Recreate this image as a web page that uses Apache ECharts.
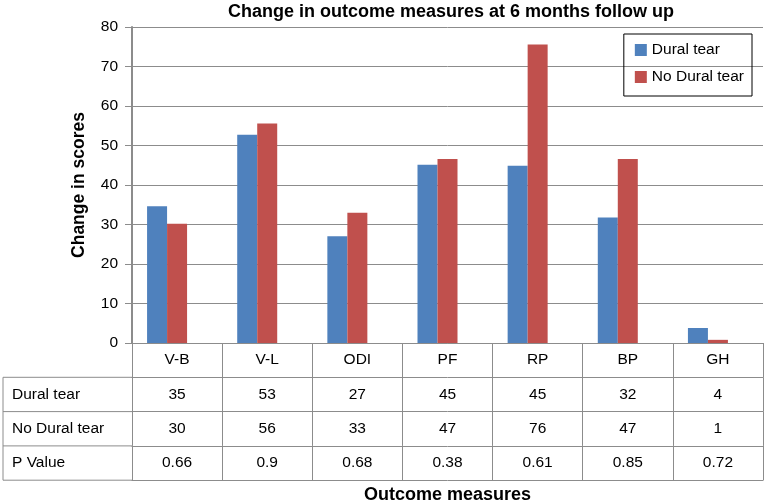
<!DOCTYPE html>
<html>
<head>
<meta charset="utf-8">
<script src="https://cdn.jsdelivr.net/npm/echarts@6/dist/echarts.min.js"></script>
<style>html,body{margin:0;padding:0;background:#fff}#c{width:767px;height:504px}</style>
</head>
<body>
<div id="c"></div>
<script>
const categories = ['V-B', 'V-L', 'ODI', 'PF', 'RP', 'BP', 'GH'];
const duralTear = [34.6, 52.7, 27.0, 45.1, 44.9, 31.8, 3.8];
const noDuralTear = [30.2, 55.6, 33.0, 46.6, 75.6, 46.6, 0.8];
const pValues = ['0.66', '0.9', '0.68', '0.38', '0.61', '0.85', '0.72'];
const seriesNames = ['Dural tear', 'No Dural tear', 'P Value'];
const yTicks = [0, 10, 20, 30, 40, 50, 60, 70, 80];

const FONT = "'Liberation Sans', Arial, sans-serif";
const FS = 15.5;
const GRAY = '#8c8c8c';
const G_LEFT = 132, G_RIGHT = 763, G_TOP = 27, G_BOTTOM = 343;
const ROW_H = 34.3;
const TABLE_LEFT = 3;

const chart = echarts.init(document.getElementById('c'), null, { renderer: 'canvas' });

function tableAxis(k, name, values) {
  return {
    type: 'category',
    data: categories,
    gridIndex: 0,
    position: 'bottom',
    offset: ROW_H * k,
    boundaryGap: true,
    axisLine: { show: true, lineStyle: { color: GRAY, width: 1 } },
    axisTick: { show: true, length: ROW_H, lineStyle: { color: GRAY, width: 1 } },
    axisLabel: {
      show: true, interval: 0, margin: ROW_H / 2, verticalAlign: 'middle',
      fontSize: FS, fontFamily: FONT, color: '#000',
      formatter: (v, i) => values[i]
    },
    name: name,
    nameLocation: 'start',
    nameGap: G_LEFT - 12,
    nameTextStyle: {
      fontSize: FS, fontFamily: FONT, color: '#000', align: 'left',
      verticalAlign: 'top', lineHeight: ROW_H
    },
    splitLine: { show: false }
  };
}

const lineSegs = [];
for (let k = 1; k <= 4; k++) {
  const y = G_BOTTOM + ROW_H * k;
  lineSegs.push({ type: 'line', silent: true,
    shape: { x1: TABLE_LEFT, y1: y, x2: G_LEFT, y2: y },
    style: { stroke: GRAY, lineWidth: 1 } });
}
lineSegs.push({ type: 'line', silent: true,
  shape: { x1: TABLE_LEFT, y1: G_BOTTOM + ROW_H, x2: TABLE_LEFT, y2: G_BOTTOM + ROW_H * 4 },
  style: { stroke: GRAY, lineWidth: 1 } });

const option = {
  animation: false,
  backgroundColor: '#fff',
  title: {
    text: 'Change in outcome measures at 6 months follow up',
    left: 228, top: 3, padding: 0,
    textStyle: { fontSize: 18, fontWeight: 'bold', fontFamily: FONT, color: '#000' }
  },
  legend: {
    data: seriesNames.slice(0, 2),
    orient: 'vertical',
    right: 767 - 752, top: 34,
    padding: [8, 8, 11, 11],
    itemGap: 11,
    itemWidth: 12, itemHeight: 12,
    borderColor: '#000', borderWidth: 1,
    icon: 'rect',
    textStyle: { fontSize: FS, fontFamily: FONT, color: '#000' }
  },
  grid: { left: G_LEFT, right: 767 - G_RIGHT, top: G_TOP, bottom: 504 - G_BOTTOM,
    containLabel: false, outerBoundsMode: 'none' },
  xAxis: [
    {
      type: 'category', data: categories, gridIndex: 0, position: 'bottom', offset: 0,
      axisLine: { show: true, lineStyle: { color: GRAY, width: 1 } },
      axisTick: { show: true, length: ROW_H, lineStyle: { color: GRAY, width: 1 } },
      axisLabel: { interval: 0, margin: ROW_H / 2, verticalAlign: 'middle', fontSize: FS, fontFamily: FONT, color: '#000' }
    },
    tableAxis(1, seriesNames[0], duralTear.map(v => String(Math.round(v)))),
    tableAxis(2, seriesNames[1], noDuralTear.map(v => String(Math.round(v)))),
    tableAxis(3, seriesNames[2], pValues),
    {
      type: 'category', data: categories, gridIndex: 0, position: 'bottom', offset: ROW_H * 4,
      axisLine: { show: true, lineStyle: { color: GRAY, width: 1 } },
      axisTick: { show: false }, axisLabel: { show: false },
      name: 'Outcome measures', nameLocation: 'middle', nameGap: 6,
      nameTextStyle: { fontSize: 18, fontWeight: 'bold', fontFamily: FONT, color: '#000' }
    }
  ],
  yAxis: {
    type: 'value', min: yTicks[0], max: yTicks[yTicks.length - 1], interval: yTicks[1] - yTicks[0],
    axisLine: { show: true, lineStyle: { color: GRAY, width: 2 } },
    axisTick: { show: true, length: 7, lineStyle: { color: GRAY, width: 1 } },
    axisLabel: { margin: 14, fontSize: FS, fontFamily: FONT, color: '#000' },
    splitLine: { show: true, lineStyle: { color: GRAY, width: 1 } },
    name: 'Change in scores', nameLocation: 'middle', nameRotate: 90, nameGap: 44,
    nameTextStyle: { fontSize: 17.5, fontWeight: 'bold', fontFamily: FONT, color: '#000' }
  },
  series: [
    { name: seriesNames[0], type: 'bar', xAxisIndex: 0, data: duralTear, barWidth: 20, barGap: '0%',
      itemStyle: { color: '#4F81BD' } },
    { name: seriesNames[1], type: 'bar', xAxisIndex: 0, data: noDuralTear, barWidth: 20, barGap: '0%',
      itemStyle: { color: '#C0504D' } },
    { name: seriesNames[2], type: 'bar', xAxisIndex: 0, data: pValues.map(Number), barWidth: 20, barGap: '0%',
      itemStyle: { color: 'rgba(0,0,0,0)' } }
  ],
  graphic: lineSegs
};
chart.setOption(option);
</script>
</body>
</html>
